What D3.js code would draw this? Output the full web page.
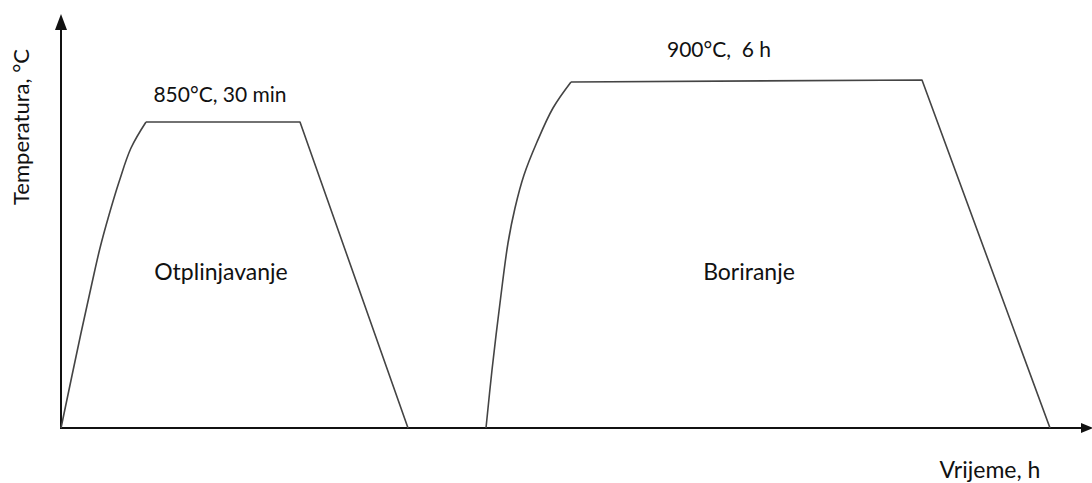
<!DOCTYPE html>
<html>
<head>
<meta charset="utf-8">
<script src="https://cdn.jsdelivr.net/npm/d3@7"></script>
<style>
  html, body { margin: 0; padding: 0; background: #fff; }
  svg { display: block; }
  text { font-family: Lato, "Open Sans", sans-serif; fill: #111; white-space: pre; }
</style>
</head>
<body>
<script>
// Relative units (time from origin, temperature above baseline)
const rise1Time = [0, 20, 31, 39, 48, 58, 70, 85];
const rise1Temp = [0, 95, 145, 180, 213, 246, 280, 306];
const hold1Time = [85, 239, 347];
const hold1Temp = [306, 306, 0];

const rise2Time = [425, 431, 439, 447, 454, 463, 476, 492, 510];
const rise2Temp = [0, 58, 125, 185, 220, 253, 286, 320, 346];
const hold2Time = [510, 861, 989];
const hold2Temp = [346, 348, 0];

const labels = [
  { t: 159, T: 326, size: 21, text: "850°C, 30 min" },
  { t: 658, T: 371, size: 21, text: "900°C,  6 h" },
  { t: 160, T: 148, size: 23, text: "Otplinjavanje" },
  { t: 688, T: 148, size: 23, text: "Boriranje" }
];
const xTitle = "Vrijeme, h";
const yTitle = "Temperatura, °C";

const W = 1092, H = 483;
const svg = d3.select("body").append("svg").attr("width", W).attr("height", H);

const x = d3.scaleLinear().domain([0, 1030]).range([61, 1091]);
const y = d3.scaleLinear().domain([0, 414]).range([428, 14]);

// Axes
const axisColor = "#111";
svg.append("line").attr("x1", x(0)).attr("x2", x(0)).attr("y1", y(0) + 1).attr("y2", y(398))
  .attr("stroke", axisColor).attr("stroke-width", 2);
svg.append("path")
  .attr("d", `M${x(0) - 6},${y(398)} L${x(0)},${y(414)} L${x(0) + 6},${y(398)} Z`)
  .attr("fill", axisColor);
svg.append("line").attr("x1", x(0)).attr("x2", x(1020)).attr("y1", y(0)).attr("y2", y(0))
  .attr("stroke", axisColor).attr("stroke-width", 2);
svg.append("path")
  .attr("d", `M${x(1020)},${y(0) - 5} L${x(1030) + 2},${y(0)} L${x(1020)},${y(0) + 5} Z`)
  .attr("fill", axisColor);

const zip = (a, b) => a.map((v, i) => [v, b[i]]);
const curve = d3.line().x(d => x(d[0])).y(d => y(d[1])).curve(d3.curveCatmullRom.alpha(0.5));
const straight = d3.line().x(d => x(d[0])).y(d => y(d[1]));
const lineColor = "#444";

[[rise1Time, rise1Temp], [rise2Time, rise2Temp]].forEach(([t, T]) => {
  svg.append("path").attr("d", curve(zip(t, T)))
    .attr("fill", "none").attr("stroke", lineColor).attr("stroke-width", 1.6);
});
[[hold1Time, hold1Temp], [hold2Time, hold2Temp]].forEach(([t, T]) => {
  svg.append("path").attr("d", straight(zip(t, T)))
    .attr("fill", "none").attr("stroke", lineColor).attr("stroke-width", 1.6)
    .attr("stroke-linejoin", "round");
});

labels.forEach(l => {
  svg.append("text").attr("x", x(l.t)).attr("y", y(l.T))
    .attr("text-anchor", "middle").attr("font-size", l.size).text(l.text);
});

svg.append("text").attr("x", 990).attr("y", 478)
  .attr("text-anchor", "middle").attr("font-size", 23).text(xTitle);
svg.append("text")
  .attr("transform", `translate(29,127) rotate(-90)`)
  .attr("text-anchor", "middle").attr("font-size", 22).text(yTitle);
</script>
</body>
</html>
